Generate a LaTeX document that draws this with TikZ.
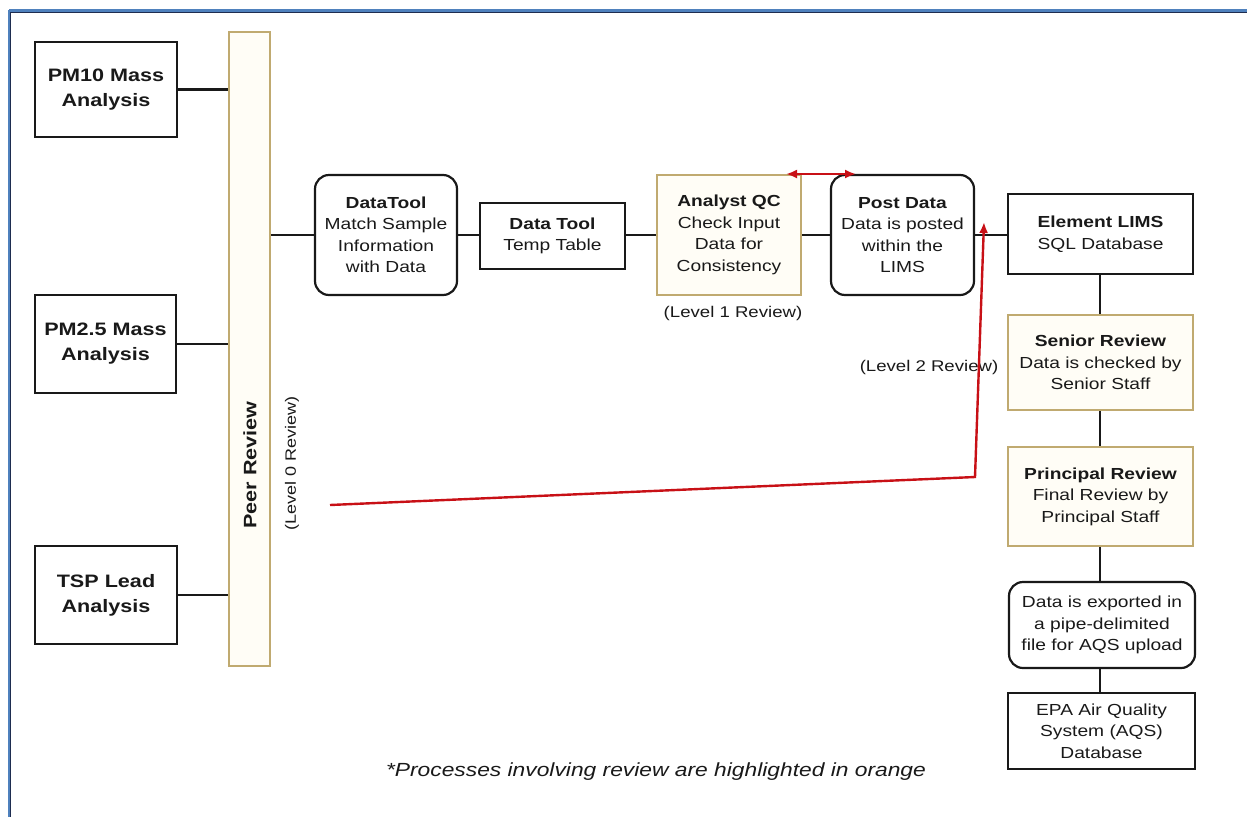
\documentclass[tikz,border=0pt]{standalone}
\usepackage{fontspec}
\setmainfont{Liberation Sans}[FakeStretch=1.2]
\usetikzlibrary{arrows.meta}
\newcommand\fsz[2]{\fontsize{#1}{#2}\selectfont}
\definecolor{framebl}{RGB}{79,129,189}
\definecolor{framedk}{RGB}{30,45,80}
\definecolor{ochre}{RGB}{192,170,112}
\definecolor{cream}{RGB}{255,253,246}
\definecolor{arrowred}{RGB}{200,16,22}
\definecolor{ink}{RGB}{25,25,25}
\tikzset{
  base/.style={draw=ink, line width=2.2pt, inner sep=0pt, align=center,
    text=ink, font=\fsz{16}{21.5}},
  sz/.style 2 args={minimum width=#1pt, minimum height=#2pt},
  sqbox/.style={base},
  rbox/.style={base, rounded corners=14pt},
  obox/.style={base, draw=ochre, fill=cream},
  srcbox/.style={base, font=\fsz{18}{25}\bfseries},
  conn/.style={draw=ink, line width=2.2pt},
  redln/.style={draw=arrowred, line width=2.4pt},
  tip/.style={-{Latex[length=11pt,width=9pt]}},
  lvl/.style={text=ink, inner sep=0pt, font=\fsz{15}{18}},
}
\begin{document}
\begin{tikzpicture}[x=1pt,y=-1pt]
\useasboundingbox (0,0) rectangle (1247,817);
% page frame
\draw[framebl, line width=3pt] (9,10) -- (1247,10);
\draw[framebl, line width=3pt] (9,10) -- (9,817);
\draw[framedk, line width=0.8pt] (10.5,12) -- (1247,12);
\draw[framedk, line width=0.8pt] (10.8,12) -- (10.8,817);

% analysis sources
\node[srcbox, sz={142}{95}] (pm10) at (106,89.5) {PM10 Mass\\Analysis};
\node[srcbox, sz={141}{98}] (pm25) at (105.5,344) {PM2.5 Mass\\Analysis};
\node[srcbox, sz={142}{98}] (tsp) at (106,595) {TSP Lead\\Analysis};

% peer review bar
\node[obox, sz={41}{634}] (peer) at (249.5,349) {};
\node[rotate=90, text=ink, inner sep=0pt, font=\fsz{18}{22}\bfseries] (peerlbl) at (250,465) {Peer Review};
\node[lvl, rotate=90] (lvl0) at (292,463) {(Level 0 Review)};

% processing chain
\node[rbox, sz={142}{120}] (dt1) at (386,235) {\textbf{DataTool}\\Match Sample\\Information\\with Data};
\node[sqbox, sz={145}{66}] (dt2) at (552.5,236) {\textbf{Data Tool}\\Temp Table};
\node[obox, sz={144}{120}] (aqc) at (729,235) {\textbf{Analyst QC}\\Check Input\\Data for\\Consistency};
\node[rbox, sz={143}{120}] (post) at (902.5,235) {\textbf{Post Data}\\Data is posted\\within the\\LIMS};
\node[sqbox, sz={185}{80}] (lims) at (1100.5,234) {\textbf{Element LIMS}\\SQL Database};
\node[obox, sz={185}{95}] (senior) at (1100.5,362.5) {\textbf{Senior Review}\\Data is checked by\\Senior Staff};
\node[obox, sz={185}{99}] (princ) at (1100.5,496.5) {\textbf{Principal Review}\\Final Review by\\Principal Staff};
\node[rbox, sz={186}{86}] (export) at (1102,625) {Data is exported in\\a pipe-delimited\\file for AQS upload};
\node[sqbox, sz={187}{76}] (epa) at (1101.5,731) {EPA Air Quality\\System (AQS)\\Database};

\node[lvl, font=\fsz{15.5}{18}] (lvl1) at (733,313) {(Level 1 Review)};
\node[lvl, font=\fsz{15.5}{18}] (lvl2) at (929,367) {(Level 2 Review)};

% connectors
\draw[conn] (pm10.east) -- (pm10.east -| peer.west);
\draw[conn] (pm25.east) -- (pm25.east -| peer.west);
\draw[conn] (tsp.east) -- (tsp.east -| peer.west);
\draw[conn] (peer.east |- dt1.west) -- (dt1.west);
\draw[conn] (dt1.east) -- (dt1.east -| dt2.west);
\draw[conn] (dt2.east |- aqc.west) -- (aqc.west);
\draw[conn] (aqc.east) -- (post.west);
\draw[conn] (post.east) -- (post.east -| lims.west);
\draw[conn] (lims.south -| 1100,0) -- (senior.north -| 1100,0);
\draw[conn] (senior.south -| 1100,0) -- (princ.north -| 1100,0);
\draw[conn] (princ.south -| 1100,0) -- (export.north -| 1100,0);
\draw[conn] (export.south -| 1100,0) -- (epa.north -| 1100,0);

% review feedback arrows
\coordinate (qcL) at (786,174);
\coordinate (qcR) at (856,174);
\draw[redln, {Latex[length=11pt,width=9pt]}-{Latex[length=11pt,width=9pt]}] (qcL) -- (qcR);
\coordinate (fb0) at (330,505);
\coordinate (fb1) at (975,477);
\coordinate (fb2) at (984,222);
\draw[redln, tip] (fb0) -- (fb1) -- (fb2);

% footnote
\node[text=ink, inner sep=0pt, font=\fsz{19}{22}\itshape] (note) at (656,772)
  {*Processes involving review are highlighted in orange};
\end{tikzpicture}
\end{document}
